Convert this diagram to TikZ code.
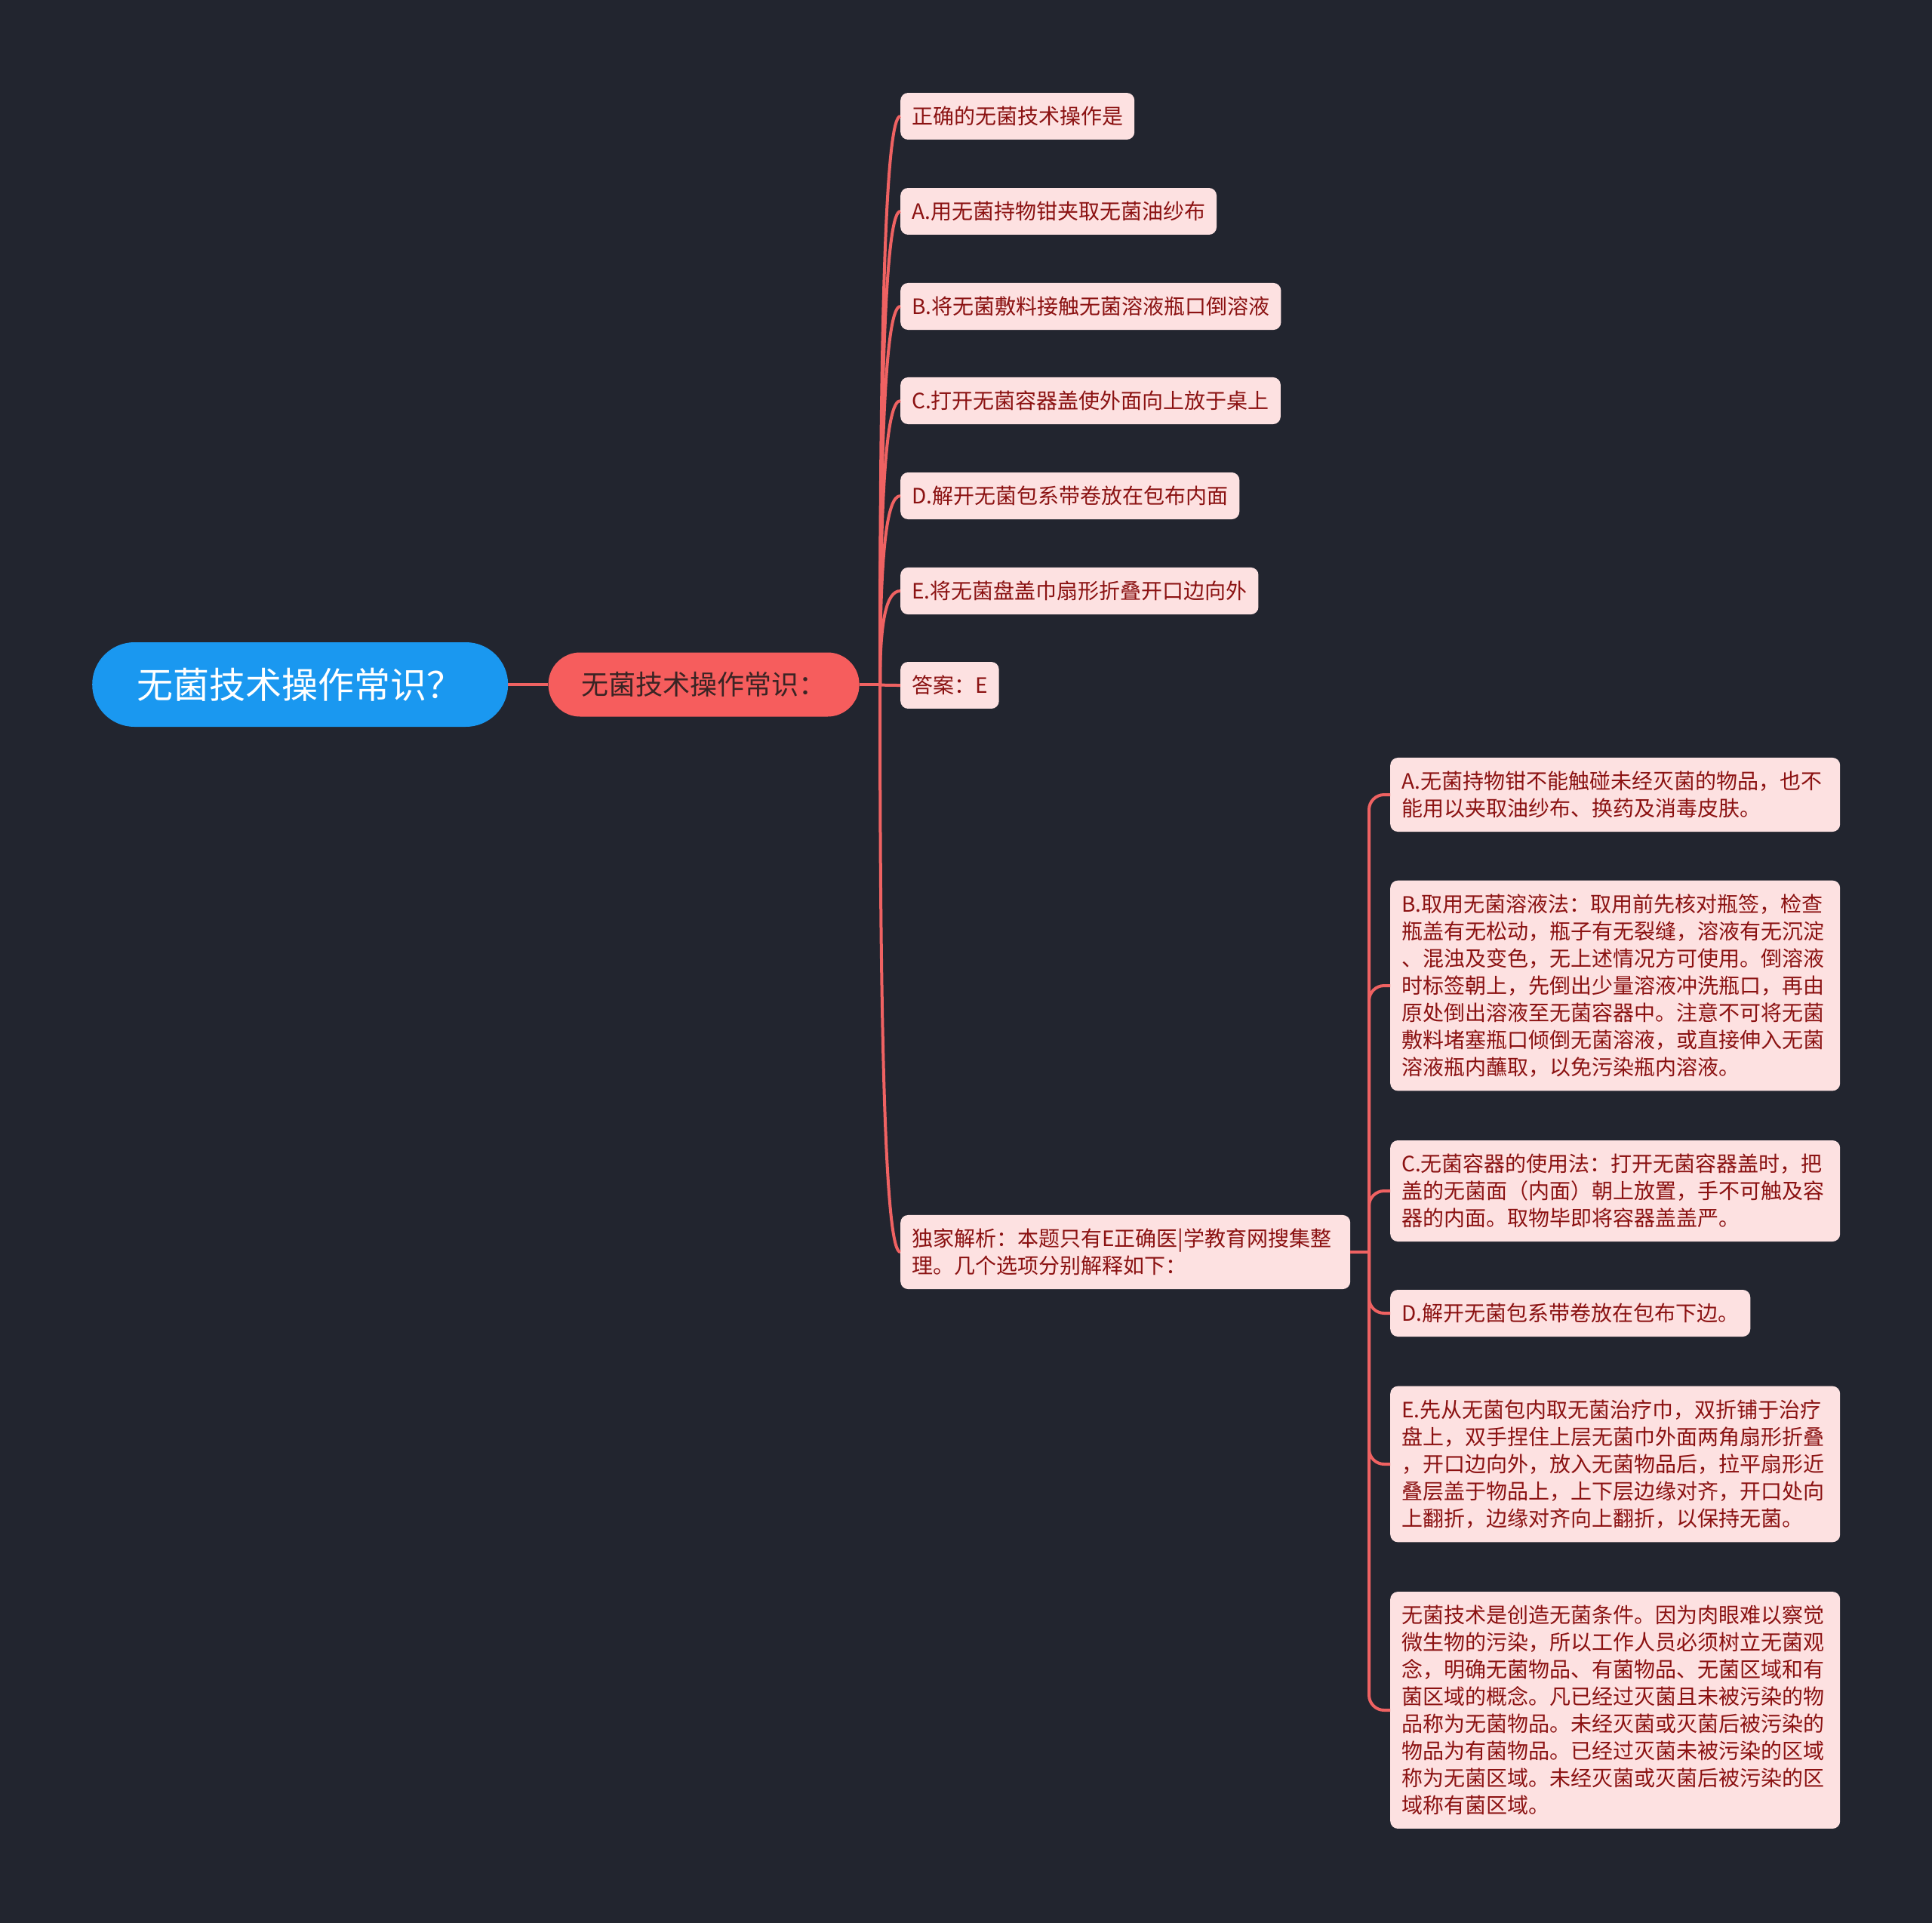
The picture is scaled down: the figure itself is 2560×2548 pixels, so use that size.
\documentclass[tikz,border=0pt]{standalone}
\usepackage{fontspec}
\setmainfont{Noto Sans CJK SC}
\usetikzlibrary{positioning,calc}

\definecolor{bgdark}{HTML}{22252F}
\definecolor{rootblue}{HTML}{1A98F0}
\definecolor{subred}{HTML}{F65D5D}
\definecolor{subtext}{HTML}{3A2424}
\definecolor{leafpink}{HTML}{FDE1E1}
\definecolor{leaftext}{HTML}{8B1212}
\definecolor{linkred}{HTML}{EF6262}

\begin{document}
\begin{tikzpicture}[x=1pt, y=-1pt,
		root/.style = {fill=rootblue, rounded corners=56pt, minimum height=112pt, minimum width=551pt, text=white, font=\fontsize{48}{56}\selectfont},
		sub/.style  = {fill=subred, rounded corners=42pt, minimum height=85pt, minimum width=412pt, text=subtext, font=\fontsize{36}{44}\selectfont},
		leaf/.style = {fill=leafpink, rounded corners=10pt, text=leaftext, font=\fontsize{28}{36}\selectfont, inner xsep=15pt, inner ysep=18pt, align=left, anchor=west},
		note/.style = {leaf, text width=566pt},
		link/.style = {draw=linkred, line width=4pt}]
		
		% canvas
		\fill[bgdark] (0,0) rectangle (2560,2548);
		\useasboundingbox (0,0) rectangle (2560,2548);
		
		% main topic and its one child
		\node[root, anchor=west] (r) at (122,907) {无菌技术操作常识？};
		\node[sub, right=53pt of r] (s) {无菌技术操作常识：};
		
		% first level, placed at their left edges
		\node[leaf] (l1) at (1193,154)  {正确的无菌技术操作是};
		\node[leaf] (l2) at (1193,280)  {A.用无菌持物钳夹取无菌油纱布};
		\node[leaf] (l3) at (1193,406)  {B.将无菌敷料接触无菌溶液瓶口倒溶液};
		\node[leaf] (l4) at (1193,531)  {C.打开无菌容器盖使外面向上放于桌上};
		\node[leaf] (l5) at (1193,657)  {D.解开无菌包系带卷放在包布内面};
		\node[leaf] (l6) at (1193,783)  {E.将无菌盘盖巾扇形折叠开口边向外};
		\node[leaf] (l7) at (1193,908)  {答案：E};
		\node[note] (l8) at (1193,1659) {独家解析：本题只有E正确医|学教育网搜集整\\理。几个选项分别解释如下：};
		
		% second level, under the analysis node
		\begin{scope}[every node/.style={note}]
			\node (n1) at (1842,1053) {A.无菌持物钳不能触碰未经灭菌的物品，也不\\能用以夹取油纱布、换药及消毒皮肤。};
			\node (n2) at (1842,1306) {B.取用无菌溶液法：取用前先核对瓶签，检查\\瓶盖有无松动，瓶子有无裂缝，溶液有无沉淀\\、混浊及变色，无上述情况方可使用。倒溶液\\时标签朝上，先倒出少量溶液冲洗瓶口，再由\\原处倒出溶液至无菌容器中。注意不可将无菌\\敷料堵塞瓶口倾倒无菌溶液，或直接伸入无菌\\溶液瓶内蘸取，以免污染瓶内溶液。};
			\node (n3) at (1842,1578) {C.无菌容器的使用法：打开无菌容器盖时，把\\盖的无菌面（内面）朝上放置，手不可触及容\\器的内面。取物毕即将容器盖盖严。};
			\node[text width=] (n4) at (1842,1740) {D.解开无菌包系带卷放在包布下边。};
			\node (n5) at (1842,1940) {E.先从无菌包内取无菌治疗巾，双折铺于治疗\\盘上，双手捏住上层无菌巾外面两角扇形折叠\\，开口边向外，放入无菌物品后，拉平扇形近\\叠层盖于物品上，上下层边缘对齐，开口处向\\上翻折，边缘对齐向上翻折，以保持无菌。};
			\node (n6) at (1842,2266) {无菌技术是创造无菌条件。因为肉眼难以察觉\\微生物的污染，所以工作人员必须树立无菌观\\念，明确无菌物品、有菌物品、无菌区域和有\\菌区域的概念。凡已经过灭菌且未被污染的物\\品称为无菌物品。未经灭菌或灭菌后被污染的\\物品为有菌物品。已经过灭菌未被污染的区域\\称为无菌区域。未经灭菌或灭菌后被污染的区\\域称有菌区域。};
		\end{scope}
		
		% junctions
		\coordinate (j) at (1166,907);
		\coordinate (k) at (1814,1659);
		
		% lines
		\draw[link] (r) -- (s);
		\draw[link] (s.east) -- (j);
		\foreach \i in {1,...,8}
		\draw[link] (j) .. controls ($(j)!.7!(j|-l\i.west)$) and ($(l\i.west)+(-18,0)$) .. (l\i.west);
		
		\draw[link] (l8.east) -- (k);
		\foreach \i in {1,...,6}
		\draw[link, rounded corners=20pt] (k) |- (n\i.west);
		
	\end{tikzpicture}
\end{document}
